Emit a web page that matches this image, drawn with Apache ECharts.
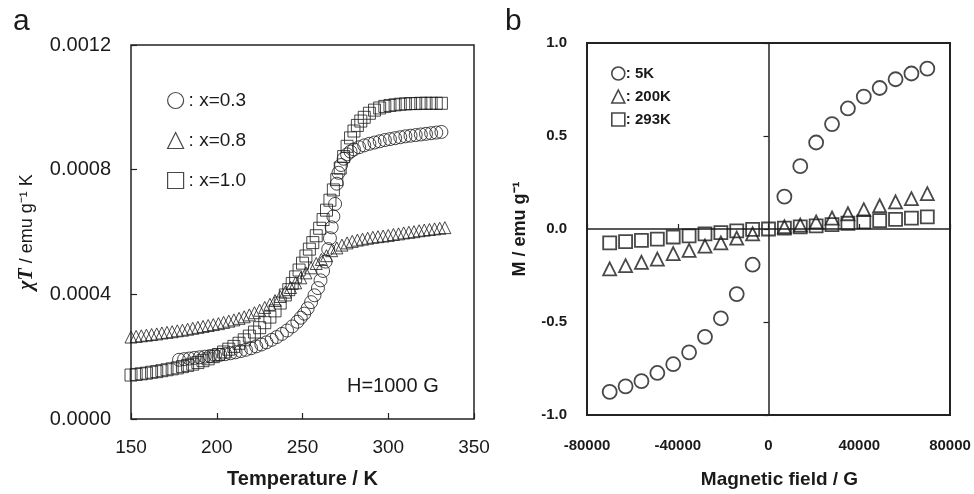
<!DOCTYPE html>
<html>
<head>
<meta charset="utf-8">
<script src="https://cdn.jsdelivr.net/npm/echarts@6/dist/echarts.min.js"></script>
<style>
  html, body { margin: 0; background: #fff; }
  #chart { width: 974px; height: 494px; }
</style>
</head>
<body>
<div id="chart"></div>
<script>
// panel a: chi*T against temperature, values in 1e-3 emu g-1 K
var tempX03 = [178,181,184,187,190,193,196,199,202,205,208,211,214,217,220,223,226,229,232,235,238,241,244,247,
  249,251,253,255,257,259,260.5,262,263.5,265,266,267,268,269,270,271,272.5,274,276,278,280,
  283,286,289,292,295,298,301,304,307,310,313,316,319,322,325,328,331];
var chiX03 = [.190,.192,.194,.196,.198,.200,.202,.204,.206,.208,.211,.214,.218,.222,.227,.233,.239,.246,.254,.263,.273,.284,.297,.312,
  .325,.338,.355,.375,.397,.420,.445,.475,.505,.545,.580,.615,.650,.690,.755,.790,.815,.835,.849,.858,.865,
  .872,.878,.883,.887,.891,.895,.898,.901,.904,.907,.909,.911,.913,.915,.917,.919,.921];

var tempX08 = [150,153,156,159,162,165,168,171,174,177,180,183,186,189,192,195,198,201,204,207,210,213,216,219,222,225,228,231,234,237,
  240,243,246,249,252,255,258,261,264,267,270,273,276,279,282,285,288,291,294,297,300,303,306,309,312,315,318,321,324,327,330,333];
var chiX08 = [.263,.265,.267,.269,.271,.273,.276,.278,.280,.283,.285,.288,.291,.294,.297,.300,.303,.306,.310,.314,.318,.323,.328,.334,.341,.349,.358,.368,.380,.393,
  .407,.422,.437,.453,.469,.485,.499,.512,.524,.540,.549,.558,.565,.570,.574,.577,.580,.583,.585,.587,.589,.592,.594,.597,.599,.601,.604,.606,.608,.610,.612,.614];

var tempX10 = [150,153,156,159,162,165,168,171,174,177,180,183,186,189,192,195,198,201,204,207,210,213,216,219,222,225,228,231,234,237,240,
  242,244,246,248,250,252,254,256,258,260,262,264,266,268,270,272,274,276,278,280,282,284,286,
  289,292,295,298,301,304,307,310,313,316,319,322,325,328,331];
var chiX10 = [.141,.143,.145,.147,.150,.152,.155,.158,.161,.164,.168,.172,.176,.181,.187,.193,.200,.207,.215,.224,.233,.243,.254,.266,.279,.293,.309,.327,.347,.372,.398,
  .415,.435,.456,.478,.500,.523,.545,.566,.588,.612,.640,.670,.702,.735,.768,.805,.842,.875,.902,.924,.942,.956,.968,
  .981,.991,.998,1.003,1.006,1.008,1.010,1.011,1.012,1.012,1.013,1.013,1.013,1.013,1.013];

// panel b: magnetisation against field
var fieldB = [-70000,-63000,-56000,-49000,-42000,-35000,-28000,-21000,-14000,-7000,0,
  7000,14000,21000,28000,35000,42000,49000,56000,63000,70000];
var m5K = [-0.876,-0.846,-0.818,-0.774,-0.727,-0.663,-0.580,-0.480,-0.350,-0.192,null,
  0.174,0.338,0.465,0.564,0.648,0.712,0.758,0.805,0.836,0.862];
var m200K = [-0.214,-0.197,-0.179,-0.162,-0.132,-0.115,-0.092,-0.075,-0.049,-0.026,null,
  0.012,0.021,0.038,0.059,0.082,0.104,0.125,0.146,0.163,0.190];
var m293K = [-0.075,-0.068,-0.061,-0.054,-0.043,-0.037,-0.026,-0.019,-0.010,-0.002,0.000,
  0.005,0.011,0.017,0.024,0.031,0.038,0.045,0.052,0.058,0.065];

var fontA = "'Liberation Sans', Arial, sans-serif";
var fontB = "'Liberation Sans Narrow', 'Liberation Sans', Arial, sans-serif";
var ink = '#1a1a1a';

function pairs(xs, ys) {
  var out = [];
  for (var i = 0; i < xs.length; i++) {
    if (ys[i] != null) out.push([xs[i], ys[i]]);
  }
  return out;
}

function hollow(w) {
  return { color: 'rgba(0,0,0,0)', borderColor: ink, borderWidth: w };
}

var chart = echarts.init(document.getElementById('chart'));

var option = {
  animation: false,
  backgroundColor: '#fff',
  graphic: [
    { type: 'text', left: 13, top: 7, style: { text: 'a', font: '30px ' + fontA, fill: ink } },
    { type: 'text', left: 505, top: 7, style: { text: 'b', font: '30px ' + fontA, fill: ink } },
    { type: 'text', left: 347, top: 376, style: { text: 'H=1000 G', font: '20px ' + fontA, fill: ink } }
  ],
  legend: [
    {
      orient: 'vertical', left: 162, top: 86, itemWidth: 16, itemHeight: 16, itemGap: 21,
      data: [
        { name: 'x=0.3', icon: 'circle' },
        { name: 'x=0.8', icon: 'triangle' },
        { name: 'x=1.0', icon: 'rect' }
      ],
      formatter: function (n) { return ': ' + n; },
      itemStyle: hollow(1.2),
      textStyle: { fontFamily: fontA, fontSize: 19, color: ink },
      selectedMode: false
    },
    {
      orient: 'vertical', left: 606, top: 61, itemWidth: 13, itemHeight: 13, itemGap: 8,
      data: [
        { name: '5K', icon: 'circle' },
        { name: '200K', icon: 'triangle' },
        { name: '293K', icon: 'rect' }
      ],
      formatter: function (n) { return ': ' + n; },
      itemStyle: hollow(1.6),
      textStyle: { fontFamily: fontB, fontSize: 15, fontWeight: 'bold', color: ink, padding: [0, 0, 0, -4] },
      selectedMode: false
    }
  ],
  grid: [
    { left: 131, top: 45, width: 343, height: 383, show: true, borderColor: '#222', borderWidth: 1.5 },
    { left: 587, top: 43, width: 363, height: 384, show: true, borderColor: '#222', borderWidth: 2 }
  ],
  xAxis: [
    {
      gridIndex: 0, type: 'value', min: 150, max: 350, interval: 50,
      name: 'Temperature / K', nameLocation: 'middle', nameGap: 50,
      nameTextStyle: { fontFamily: fontA, fontSize: 20, fontWeight: 'bold', color: ink },
      axisLine: { show: false, onZero: false },
      axisTick: { inside: true, length: 6, lineStyle: { color: '#222', width: 1.2 } },
      axisLabel: { margin: 19, fontSize: 19, fontFamily: fontA, color: ink },
      splitLine: { show: false }
    },
    {
      gridIndex: 1, type: 'value', min: -80000, max: 80000, interval: 40000,
      name: 'Magnetic field / G', nameLocation: 'middle', nameGap: 55,
      nameTextStyle: { fontFamily: fontB, fontSize: 19, fontWeight: 'bold', color: ink, padding: [0, 0, 0, 22] },
      axisLine: { show: false, onZero: false },
      axisTick: { show: false },
      axisLabel: {
        margin: 23, fontSize: 15, fontWeight: 'bold', fontFamily: fontB, color: ink,
        formatter: function (v) { return String(v); }
      },
      splitLine: { show: false }
    },
    {
      gridIndex: 1, type: 'value', position: 'bottom', min: -80000, max: 80000, interval: 40000,
      axisLine: { show: true, onZero: true, onZeroAxisIndex: 1, lineStyle: { color: '#222', width: 1.5 } },
      axisTick: { inside: true, length: 5, lineStyle: { color: '#222', width: 1.2 } },
      axisLabel: { show: false },
      splitLine: { show: false }
    }
  ],
  yAxis: [
    {
      gridIndex: 0, type: 'value', min: 0, max: 1.2, interval: 0.4,
      name: '{chi|χT} / emu g⁻¹ K', nameLocation: 'middle', nameGap: 94,
      nameTextStyle: {
        fontFamily: fontA, fontSize: 18, color: ink,
        rich: { chi: { fontFamily: "'Liberation Serif', serif", fontStyle: 'italic', fontWeight: 'bold', fontSize: 20, color: ink } }
      },
      axisLine: { show: false, onZero: false },
      axisTick: { inside: true, length: 6, lineStyle: { color: '#222', width: 1.2 } },
      axisLabel: {
        margin: 20, fontSize: 20, fontFamily: fontA, color: ink,
        formatter: function (v) { return (v * 1e-3).toFixed(4); }
      },
      splitLine: { show: false }
    },
    {
      gridIndex: 1, type: 'value', min: -1, max: 1, interval: 0.5,
      name: 'M / emu g⁻¹', nameLocation: 'middle', nameGap: 58,
      nameTextStyle: { fontFamily: fontB, fontSize: 18, fontWeight: 'bold', color: ink },
      axisLine: { show: false, onZero: false },
      axisTick: { show: false },
      axisLabel: {
        margin: 20, fontSize: 15, fontWeight: 'bold', fontFamily: fontB, color: ink,
        formatter: function (v) { return v.toFixed(1); }
      },
      splitLine: { show: false }
    },
    {
      gridIndex: 1, type: 'value', position: 'left', min: -1, max: 1, interval: 0.5,
      axisLine: { show: true, onZero: true, onZeroAxisIndex: 1, lineStyle: { color: '#222', width: 1.5 } },
      axisTick: { inside: false, length: 5, lineStyle: { color: '#222', width: 1.2 } },
      axisLabel: { show: false },
      splitLine: { show: false }
    }
  ],
  series: [
    { name: 'x=0.3', type: 'scatter', xAxisIndex: 0, yAxisIndex: 0, symbol: 'circle', symbolSize: 13,
      itemStyle: hollow(1), data: pairs(tempX03, chiX03) },
    { name: 'x=0.8', type: 'scatter', xAxisIndex: 0, yAxisIndex: 0, symbol: 'triangle', symbolSize: 12,
      itemStyle: hollow(1), data: pairs(tempX08, chiX08) },
    { name: 'x=1.0', type: 'scatter', xAxisIndex: 0, yAxisIndex: 0, symbol: 'rect', symbolSize: 12,
      itemStyle: hollow(1), data: pairs(tempX10, chiX10) },
    { name: '5K', type: 'scatter', xAxisIndex: 1, yAxisIndex: 1, symbol: 'circle', symbolSize: 14,
      itemStyle: hollow(1.8), data: pairs(fieldB, m5K) },
    { name: '200K', type: 'scatter', xAxisIndex: 1, yAxisIndex: 1, symbol: 'triangle', symbolSize: 13,
      itemStyle: hollow(1.8), data: pairs(fieldB, m200K) },
    { name: '293K', type: 'scatter', xAxisIndex: 1, yAxisIndex: 1, symbol: 'rect', symbolSize: 13,
      itemStyle: hollow(1.8), data: pairs(fieldB, m293K) }
  ]
};

chart.setOption(option);
window.addEventListener('resize', chart.resize);
</script>
</body>
</html>
